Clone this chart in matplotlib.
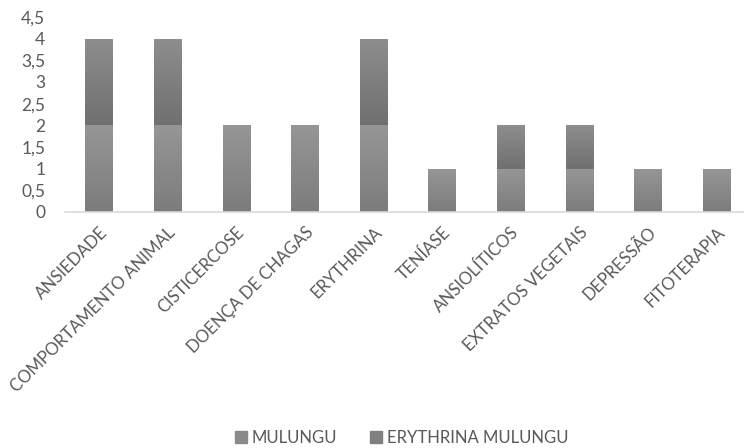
import numpy as np
import matplotlib.pyplot as plt
from matplotlib.colors import LinearSegmentedColormap

plt.rcParams['font.family'] = ['Lato', 'DejaVu Sans']

categories = ["ANSIEDADE", "COMPORTAMENTO ANIMAL", "CISTICERCOSE", "DOENÇA DE CHAGAS",
              "ERYTHRINA", "TENÍASE", "ANSIOLÍTICOS", "EXTRATOS VEGETAIS",
              "DEPRESSÃO", "FITOTERAPIA"]
mulungu = [2, 2, 2, 2, 2, 1, 1, 1, 1, 1]
erythrina_mulungu = [2, 2, 0, 0, 2, 0, 1, 1, 0, 0]
yticks = [0, 0.5, 1, 1.5, 2, 2.5, 3, 3.5, 4, 4.5]
ytick_labels = ["0", "0,5", "1", "1,5", "2", "2,5", "3", "3,5", "4", "4,5"]

text_color = "#595959"

fig = plt.figure(figsize=(7.44, 4.48), dpi=100)
ax = fig.add_axes([0.087, 0.527, 0.913, 0.435])

x = np.arange(len(categories))
width = 0.40

# gradient fills: lighter at the top of each segment, darker at the bottom
cmap_low = LinearSegmentedColormap.from_list("low", ["#7c7c7c", "#969696"])
cmap_high = LinearSegmentedColormap.from_list("high", ["#707070", "#8e8e8e"])

def gradient_bars(bars, cmap):
    grad = np.linspace(0, 1, 256).reshape(-1, 1)
    for b in bars:
        if b.get_height() <= 0:
            continue
        x0, y0 = b.get_x(), b.get_y()
        x1, y1 = x0 + b.get_width(), y0 + b.get_height()
        im = ax.imshow(grad, cmap=cmap, origin="lower", aspect="auto",
                       extent=[x0, x1, y0, y1], zorder=2)
        im.set_clip_path(b)
        b.set_facecolor("none")

b1 = ax.bar(x, mulungu, width, color="#8a8a8a", label="MULUNGU", zorder=2, linewidth=0)
b2 = ax.bar(x, erythrina_mulungu, width, bottom=mulungu, color="#7e7e7e",
            label="ERYTHRINA MULUNGU", zorder=2, linewidth=0)

ax.set_xlim(-0.5, 9.4)
ax.set_ylim(0, 4.5)

gradient_bars(b1, cmap_low)
gradient_bars(b2, cmap_high)

for s in ["top", "right", "left"]:
    ax.spines[s].set_visible(False)
ax.spines["bottom"].set_color("#d9d9d9")
ax.spines["bottom"].set_linewidth(1.2)

ax.set_yticks(yticks)
ax.set_yticklabels(ytick_labels, fontsize=12.5, color=text_color)
ax.tick_params(axis="y", length=0, pad=14)
ax.set_xticks(x)
ax.set_xticklabels(categories, rotation=45, ha="right", rotation_mode="anchor",
                   fontsize=12.2, color=text_color)
ax.tick_params(axis="x", length=0, pad=9)

handles = [plt.Rectangle((0, 0), 1, 1, color="#8a8a8a"),
           plt.Rectangle((0, 0), 1, 1, color="#808080")]
fig.legend(handles, ["MULUNGU", "ERYTHRINA MULUNGU"], loc="center",
           bbox_to_anchor=(0.54, 0.022), ncol=2, frameon=False, fontsize=12,
           labelcolor=text_color, handlelength=0.7, handleheight=0.7,
           handletextpad=0.3, columnspacing=2.0)

fig.savefig("out.png", dpi=100)
